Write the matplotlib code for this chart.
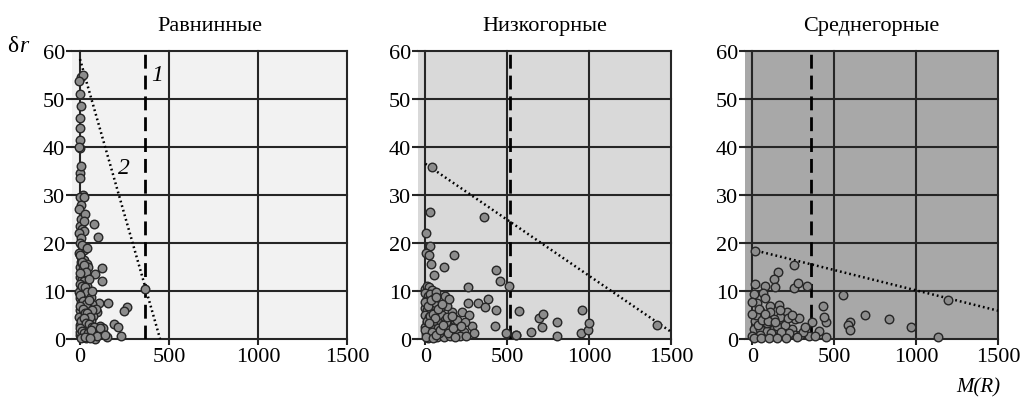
import numpy as np
import matplotlib
matplotlib.use('Agg')
import matplotlib.pyplot as plt

plt.rcParams['font.family'] = ['Liberation Serif', 'DejaVu Serif']

TITLES = ['Равнинные', 'Низкогорные', 'Среднегорные']
BG_COLORS = ['#f2f2f2', '#d9d9d9', '#a8a8a8']
X_TICKS = [0, 500, 1000, 1500]
Y_TICKS = [0, 10, 20, 30, 40, 50, 60]

# threshold (dashed line 1) and regression line 2 end points
THRESH = [365, 518, 360]
LINE_X = [[0, 450], [0, 1500], [0, 1500]]
LINE_Y = [[58.3, 0], [36.5, 1.5], [18.6, 5.9]]

# Равнинные
x1 = [5, 15, -3, 0, 3, -2, 0, 2, 0, -3, -2, 2, 15, 0, 25, 5, -3, 8, 80, 0,
      10, 20, -3, 103, 5, 0, 12, 25, -3, 8, 20, 37, 47, 122, 0, 15, 84, 30, -2, 10,
      125, 22, 0, 40, 8, 365, 20, -3, 50, 12, 30, 0, 37, 108, 159, 66, 5, 20, 45, 262,
      247, 56, 94, 0, 15, 30, 75, -3, 10, 40, 60, 22, 0, 112, 191, 212, 50, 130, 8, 30,
      75, 100, 122, 229, 84, 0, 15, 45, 150, 60, -2, 35, 5, 18, 28, 12, 3, 55, 70, 90,
      0, 10, 22, 35, 48, 0, 12, 28, 42, 60, 2, 18, 33, 52, 70, 0, 14, 26, 40, 58,
      5, 20, 36, 50, 65, 80, 0, 10, 25, 45, 62, 95, 110, 8, 30, 55, 140, 20, 42, 70]
y1 = [54.5, 55, 53.8, 51, 48.5, 46, 44, 41.5, 39.8, 40, 34.5, 33.5, 30, 29.5, 29.5, 28, 27, 25, 24, 23.6,
      23, 22.5, 22, 21.2, 21, 20, 19.4, 18.5, 18, 17, 16.5, 15.6, 15, 14.7, 15, 14.5, 13.5, 13, 13, 12.5,
      12, 12, 11.5, 11, 10.5, 10.5, 10, 9.8, 9.5, 9, 8.7, 8.5, 8.3, 7.4, 7.4, 7.3, 7.5, 7, 6.5, 6.6,
      5.8, 5.6, 5.6, 6, 5.2, 5, 4.8, 4.5, 4, 4, 3.8, 3.5, 3, 2.8, 3.1, 2.4, 2.5, 2.3, 2, 1.8,
      1.4, 1.5, 1, 0.7, 0, 0.8, 0.5, 0.5, 0.5, 1, 1.5, 0.2, 16, 11, 26, 19.5, 36, 3, 2, 6.2,
      17.5, 16, 15.5, 14, 12.5, 13.8, 11, 10.8, 9.8, 8.8, 9.2, 8, 7.2, 8.2, 6, 6.8, 6.2, 5.5, 5.5, 4.6,
      3.8, 4.4, 3.4, 3.2, 2.5, 2.6, 2.2, 1.6, 1.3, 1.2, 1.8, 0.6, 2.2, 0.3, 0.4, 0.3, 0.8, 24.5, 19, 10]

# Низкогорные
x2 = [41, 26, 355, 6, 30, 6, 20, 173, 35, 112, 51, 433, 453, 258, 510, 323, 380, 366, 433, 258,
      569, 427, 494, 555, 553, 646, 691, 717, 711, 803, 803, 959, 951, 996, 1002, 1416,
      0, 10, 25, 40, -5, 15, 30, 50, 5, 22, 45, 60, -3, 12, 35, 55, 70, 0, 25, 45,
      80, 10, 35, 60, 95, -2, 20, 50, 75, 110, 5, 30, 71, 112, 152, 189, 183, 234, 285, 295,
      224, 264, 163, 132, 122, 142, 90, 100, 150, 200, 170, 65, 85, 120,
      0, 18, 35, 8, 28, 48, 65, 0, 15, 40, 58, 78, 100, 125, 140, 170, 195, 210, 245, 215,
      5, 20, 45, 62, 88, 108, 135, 160, 180, 250]
y2 = [35.8, 26.5, 25.5, 22, 19.4, 18, 17.5, 17.4, 15.6, 14.9, 13.3, 14.4, 12, 10.9, 11.1, 7.6, 8.3, 6.6, 6.1, 7.6,
      5.8, 2.8, 1.2, 0.9, 0.9, 1.5, 4.4, 5.2, 2.6, 3.6, 0.7, 6, 1.2, 1.9, 3.3, 3,
      10.5, 11, 10.8, 10.2, 9.5, 9, 9.3, 8.5, 8, 7.5, 7.2, 7, 6.5, 6, 6, 5.5, 5.5, 5, 4.5, 4.3,
      4, 3.5, 3, 3.2, 3.5, 2.5, 2, 2, 2.3, 2, 1, 0.8, 0.5, 0.5, 0.7, 1.7, 3.5, 1.4, 2.8, 1.2,
      5.6, 4.9, 5.6, 6.9, 9, 8.3, 6.5, 5, 2.5, 3, 4.5, 9.8, 1.2, 4,
      7.8, 6.8, 8.2, 3.8, 4.8, 5.2, 8.8, 1.8, 0.3, 1.5, 4.4, 6.2, 7.2, 3.5, 1.2, 2.2, 4, 0.6, 3.5, 2.8,
      0.5, 3.3, 0.2, 0.9, 1.8, 3, 4.6, 4.8, 0.4, 0.6]

# Среднегорные
x3 = [18, 252, 154, 130, 18, 79, 140, 256, 279, 333, 553, 429, 1197, 689, 835, 598, 581, 598, 968, 1132,
      451, 435, 451, 364, 404, 8, 65, 110, 49, 110, 211, 171, 69, 18, 130, 262, 283, 8, 49, 90,
      130, 191, 242, -2, 49, 120, 191, 262, 293, 343, 384, 150, 90, 30, 160, 225, 310, 20, 75, 200,
      0, 35, 60, 95, 140, 175, 215, 0, 40, 80, 115, 170, 240, 320, 10, 55, 100, 150, 205, 270]
y3 = [18.4, 15.5, 14, 12.6, 11.5, 11.1, 10.9, 10.6, 11.6, 11.1, 9.2, 6.9, 8.2, 5, 4.2, 3.6, 3, 1.9, 2.4, 0.5,
      3.5, 4.5, 0.5, 3.6, 1.7, 9.4, 9.5, 6.9, 5.9, 5.6, 5.6, 4.5, 4.5, 3.8, 4.2, 4.2, 4.3, 2.1, 2.1, 1.7,
      2.1, 2.8, 2.1, 0.7, 0.8, 0.7, 0.8, 0.8, 0.8, 0.7, 0.7, 2.8, 3.3, 7.5, 7, 1.2, 1.5, 5, 8.5, 3,
      5.2, 3, 4, 3.8, 3.6, 1.5, 4.4, 7.8, 6.2, 5.2, 1.3, 6.1, 5, 2.5, 0.3, 0.2, 0.3, 0.2, 0.3, 0.4]

XS = [x1, x2, x3]
YS = [y1, y2, y3]

fig = plt.figure(figsize=(10.25, 4.02), dpi=100)
lefts = [72 / 1025, 418 / 1025, 745 / 1025]
widths = [275 / 1025, 253 / 1025, 253 / 1025]
bottom, height = 1 - 340 / 402, 288 / 402

for i in range(3):
    ax = fig.add_axes([lefts[i], bottom, widths[i], height])
    ax.set_facecolor(BG_COLORS[i])
    ax.set_xlim(-45, 1500)
    ax.set_ylim(0, 60)
    for s in ax.spines.values():
        s.set_visible(False)
    for xv in X_TICKS:
        ax.axvline(xv, color='#262626', lw=1.5, zorder=1, clip_on=False)
    for yv in Y_TICKS:
        ax.axhline(yv, color='#262626', lw=1.5, zorder=1, clip_on=False)
    ax.set_xticks(X_TICKS)
    ax.set_yticks(Y_TICKS)
    ax.tick_params(direction='out', length=4, width=1.5, color='#262626',
                   labelsize=16, pad=1)
    ax.tick_params(axis='x', pad=2)

    ax.axvline(THRESH[i], color='black', lw=2, ls=(0, (5, 2.5)), zorder=2)
    ax.plot(LINE_X[i], LINE_Y[i], color='black', lw=1.8, ls=(0, (0.7, 1.2)), zorder=2)
    ax.scatter(XS[i], YS[i], s=38, facecolor='#8c8c8c', edgecolor='#262626',
               linewidth=1.0, zorder=3, clip_on=False)
    ax.set_title(TITLES[i], fontsize=16, pad=15)

    if i == 0:
        ax.text(433, 55.2, '1', fontsize=17, style='italic', ha='center', va='center')
        ax.text(247, 35.8, '2', fontsize=17, style='italic', ha='center', va='center')

fig.text(7 / 1025, 1 - 47 / 402, 'δ', fontsize=17, ha='left', va='center')
fig.text(19 / 1025, 1 - 47 / 402, 'r', fontsize=17, style='italic', ha='left', va='center')
fig.text(1000 / 1025, 1 - 388 / 402, 'M(R)', fontsize=15, style='italic', ha='right', va='center')

fig.savefig('out.png', dpi=100)
